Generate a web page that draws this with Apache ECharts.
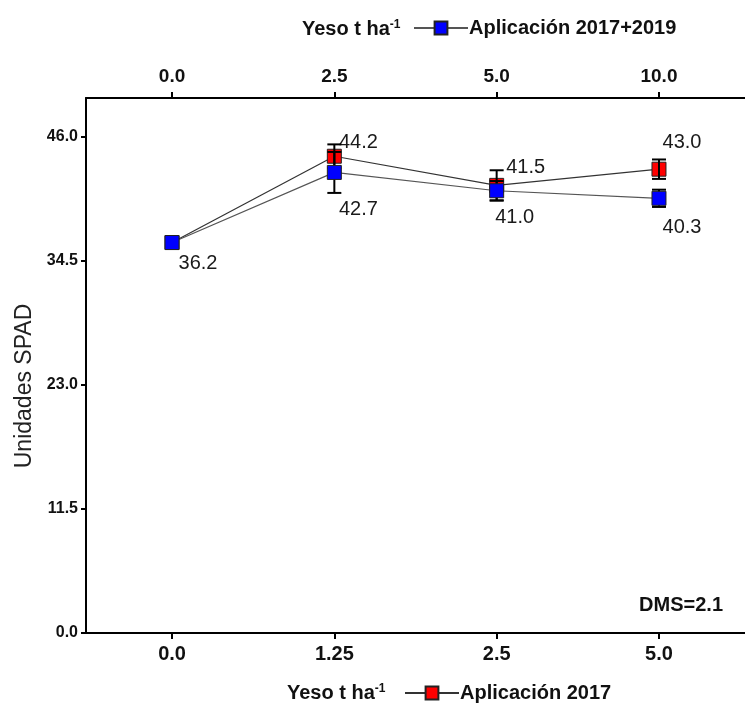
<!DOCTYPE html>
<html>
<head>
<meta charset="utf-8">
<script src="https://cdn.jsdelivr.net/npm/echarts@6/dist/echarts.min.js"></script>
<style>
  html, body { margin: 0; padding: 0; background: #ffffff; }
  #chart { width: 745px; height: 704px; }
</style>
</head>
<body>
<div id="chart"></div>
<script>
// Dosis de yeso (t ha-1): eje inferior (Aplicación 2017) y eje superior (Aplicación 2017+2019)
const dosisInferior = ['0.0', '1.25', '2.5', '5.0'];
const dosisSuperior = ['0.0', '2.5', '5.0', '10.0'];

// Unidades SPAD por tratamiento
const spadAplic2017 = [36.2, 44.2, 41.5, 43.0];
const spadAplic20172019 = [36.2, 42.7, 41.0, 40.3];

// Error (±) de cada media
const errAplic2017 = [0, 1.1, 1.4, 0.9];
const errAplic20172019 = [0, 1.9, 0.9, 0.8];

// Marcas del eje Y
const yTicks = [0, 11.5, 23, 34.5, 46];

const nombre2017 = 'Aplicación 2017';
const nombre20172019 = 'Aplicación 2017+2019';
const textoDms = 'DMS=2.1';

// ---- estilo ----
const FONT = "'Liberation Sans', Arial, Helvetica, sans-serif";
const posiciones = dosisInferior.map((_, i) => i);
const etiqueta2017Offset = [null, [24, -14], [29, -18], [23, -27]];
const etiqueta20172019Offset = [[26, 21], [24, 37], [18, 27], [23, 29]];

function puntos(valores, offsets) {
  return valores.map((v, i) => ({
    value: [posiciones[i], v],
    label: offsets[i] ? { show: true, offset: offsets[i] } : { show: false }
  }));
}

function barrasError(valores, errores, z) {
  return {
    type: 'custom',
    z: z,
    silent: true,
    encode: { x: 0, y: [1, 2] },
    data: valores.map((v, i) => [posiciones[i], v - errores[i], v + errores[i]]),
    renderItem: function (params, api) {
      const x = api.value(0);
      const lo = api.coord([x, api.value(1)]);
      const hi = api.coord([x, api.value(2)]);
      if (Math.abs(lo[1] - hi[1]) < 0.5) return null;
      const hw = 7;
      const st = { stroke: '#000', lineWidth: 2 };
      return {
        type: 'group',
        children: [
          { type: 'line', shape: { x1: lo[0], y1: lo[1], x2: hi[0], y2: hi[1] }, style: st },
          { type: 'line', shape: { x1: lo[0] - hw, y1: lo[1], x2: lo[0] + hw, y2: lo[1] }, style: st },
          { type: 'line', shape: { x1: hi[0] - hw, y1: hi[1], x2: hi[0] + hw, y2: hi[1] }, style: st }
        ]
      };
    }
  };
}

const etiquetaValor = {
  position: 'inside',
  fontFamily: FONT,
  fontSize: 20,
  color: '#1a1a1a',
  formatter: p => p.value[1].toFixed(1)
};

const legendaTexto = {
  fontFamily: FONT,
  fontSize: 20,
  fontWeight: 'bold',
  color: '#111',
  padding: [0, 0, 0, -4]
};

function textoYeso(left, top) {
  return {
    type: 'text',
    x: left,
    y: top,
    style: {
      text: '{a|Yeso t ha}{b|-1}',
      textVerticalAlign: 'middle',
      rich: {
        a: { fontFamily: FONT, fontSize: 20, fontWeight: 'bold', fill: '#111' },
        b: { fontFamily: FONT, fontSize: 12, fontWeight: 'bold', fill: '#111', verticalAlign: 'top' }
      }
    }
  };
}

const ejeXBase = {
  type: 'value',
  min: -0.53,
  max: 3.53,
  splitLine: { show: false },
  axisLine: { show: true, onZero: false, lineStyle: { color: '#000', width: 2 } },
  axisTick: { show: true, customValues: posiciones, length: 6, lineStyle: { color: '#000', width: 2 } }
};

const chart = echarts.init(document.getElementById('chart'));
chart.setOption({
  animation: false,
  backgroundColor: '#ffffff',
  grid: { left: 86, right: -4, top: 98, bottom: 71, containLabel: false },
  xAxis: [
    Object.assign({}, ejeXBase, {
      position: 'bottom',
      axisLabel: {
        customValues: posiciones,
        formatter: v => dosisInferior[Math.round(v)],
        fontFamily: FONT, fontSize: 20, fontWeight: 'bold', color: '#111', margin: 11
      }
    }),
    Object.assign({}, ejeXBase, {
      position: 'top',
      axisLabel: {
        customValues: posiciones,
        formatter: v => dosisSuperior[Math.round(v)],
        fontFamily: FONT, fontSize: 19, fontWeight: 'bold', color: '#111', margin: 12
      }
    })
  ],
  yAxis: {
    type: 'value',
    min: 0,
    max: 49.6,
    position: 'left',
    splitLine: { show: false },
    axisLine: { show: true, onZero: false, lineStyle: { color: '#000', width: 2 } },
    axisTick: { show: true, customValues: yTicks, length: 5, lineStyle: { color: '#000', width: 2 } },
    axisLabel: {
      customValues: yTicks,
      formatter: v => v.toFixed(1),
      fontFamily: FONT, fontSize: 16, fontWeight: 'bold', color: '#111', margin: 8
    }
  },
  legend: [
    {
      data: [nombre20172019],
      left: 413, top: 18, padding: 0,
      itemWidth: 54, itemHeight: 16, itemGap: 0,
      textStyle: legendaTexto
    },
    {
      data: [nombre2017],
      left: 404, top: 683, padding: 0,
      itemWidth: 54, itemHeight: 16, itemGap: 0,
      textStyle: legendaTexto
    }
  ],
  graphic: [
    textoYeso(302, 29),
    textoYeso(287, 693),
    {
      type: 'text',
      x: 25, y: 386,
      rotation: Math.PI / 2,
      style: {
        text: 'Unidades SPAD',
        textAlign: 'center', textVerticalAlign: 'middle',
        fontFamily: FONT, fontSize: 23, fill: '#222'
      }
    },
    {
      type: 'text',
      x: 723, y: 605,
      style: {
        text: textoDms,
        textAlign: 'right', textVerticalAlign: 'middle',
        fontFamily: FONT, fontSize: 20, fontWeight: 'bold', fill: '#111'
      }
    }
  ],
  series: [
    {
      name: nombre2017,
      type: 'line',
      z: 2,
      symbol: 'rect',
      symbolSize: 14,
      data: puntos(spadAplic2017, etiqueta2017Offset),
      lineStyle: { color: '#333', width: 1.2 },
      itemStyle: { color: '#ff0000', borderColor: '#222', borderWidth: 1 },
      label: etiquetaValor
    },
    barrasError(spadAplic2017, errAplic2017, 3),
    barrasError(spadAplic20172019, errAplic20172019, 3),
    {
      name: nombre20172019,
      type: 'line',
      z: 4,
      symbol: 'rect',
      symbolSize: 14,
      data: puntos(spadAplic20172019, etiqueta20172019Offset),
      lineStyle: { color: '#555', width: 1.2 },
      itemStyle: { color: '#0000ff', borderColor: '#222', borderWidth: 1 },
      label: etiquetaValor
    }
  ]
});
</script>
</body>
</html>
